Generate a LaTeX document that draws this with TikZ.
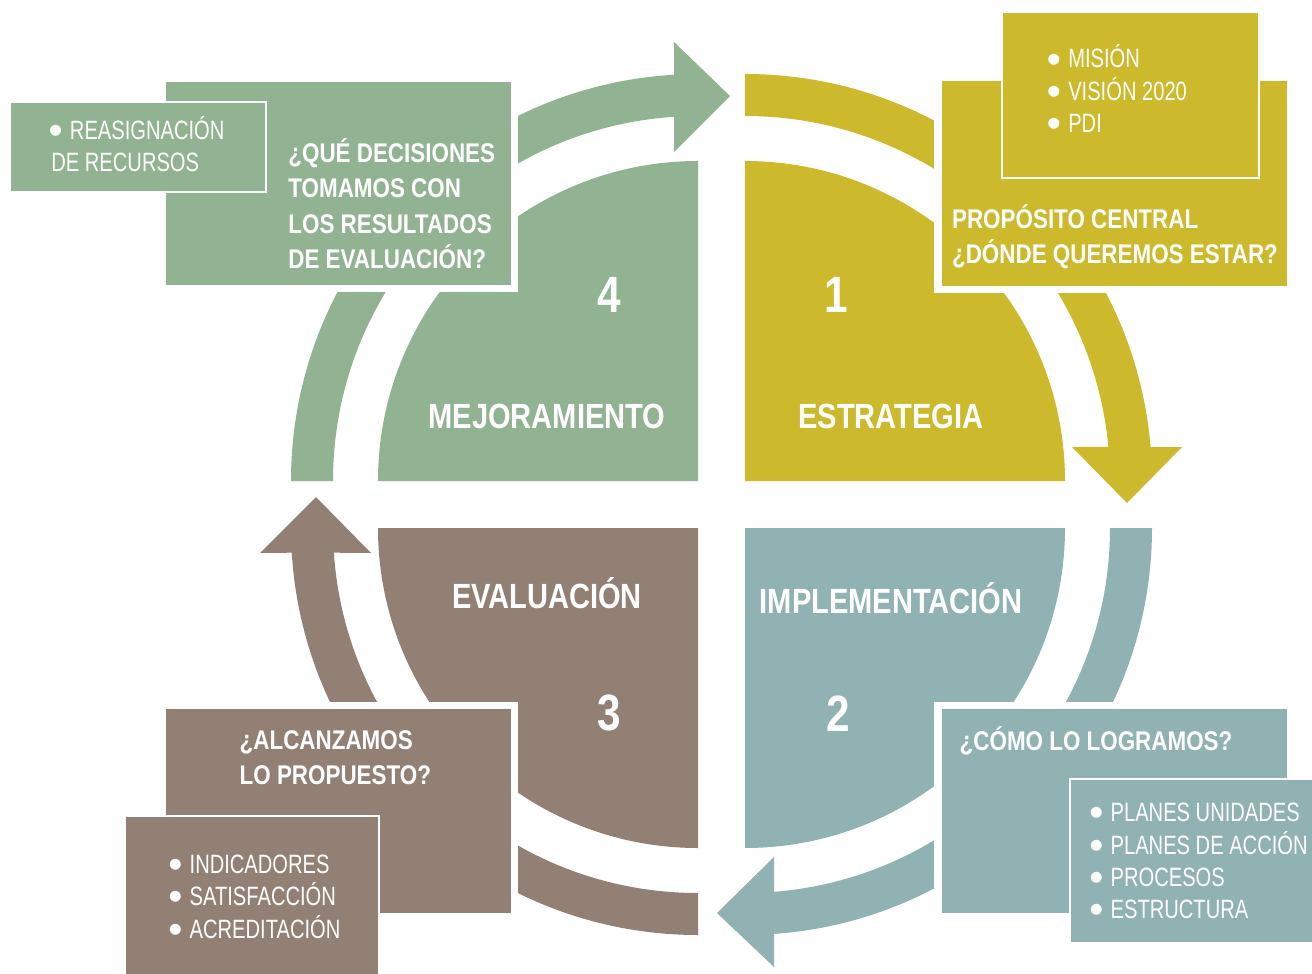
\documentclass[tikz,border=0pt]{standalone}
\usepackage{fontspec}
\setmainfont{Liberation Sans}
\newfontfamily\headfont{Liberation Sans}[FakeStretch=0.83]
\newfontfamily\listfont{Liberation Sans}[FakeStretch=0.76]
\newfontfamily\dotfont{DejaVu Sans}
\newcommand\bul{\hspace{-1pt}\raisebox{0.18em}{\dotfont\fontsize{7.2}{8}\selectfont ●}\hspace{4pt}}
\definecolor{verde}{RGB}{146,179,145}
\definecolor{amarillo}{RGB}{205,185,44}
\definecolor{azul}{RGB}{145,178,178}
\definecolor{cafe}{RGB}{147,128,116}

\begin{document}
\begin{tikzpicture}[x=0.5pt,y=-0.5pt,
    bigbox/.style={draw=white,line width=3.7pt},
    smallbox/.style={draw=white,line width=1pt},
    boxtext/.style={font=\headfont\bfseries\fontsize{13.5}{17.65}\selectfont,anchor=base west},
    listtext/.style={font=\listfont\fontsize{13.25}{16}\selectfont,anchor=base west},
    phase/.style={font=\headfont\bfseries\fontsize{17.5}{21}\selectfont,anchor=base},
    number/.style={font=\headfont\bfseries\fontsize{25.5}{30}\selectfont}]

      \useasboundingbox (0,0) rectangle (1312,974);

      % quadrants
      \fill[amarillo] (745,481) -- ++(0,-320) arc[start angle=-90,end angle=0,radius=320] -- cycle;
      \fill[azul] (745,528) -- ++(320,0) arc[start angle=0,end angle=90,radius=320] -- cycle;
      \fill[cafe] (698,528) -- ++(0,320) arc[start angle=90,end angle=180,radius=320] -- cycle;
      \fill[verde] (698,481) -- ++(-320,0) arc[start angle=180,end angle=270,radius=320] -- cycle;

      % ring arrows
      \fill[amarillo,shift={(745,481)}] (-90:407) arc[start angle=-90,end angle=-4.79,radius=407]
        -- (437,-34) -- (382,22) -- (327,-34)
        -- (-5.35:365) arc[start angle=-5.35,end angle=-90,radius=365] -- cycle;
      \fill[azul,shift={(745,528)}] (0:407) arc[start angle=0,end angle=85.91,radius=407]
        -- (29,439) -- (-28,385) -- (29,329)
        -- (85.44:365) arc[start angle=85.44,end angle=0,radius=365] -- cycle;
      \fill[cafe,shift={(698,528)}] (90:407) arc[start angle=90,end angle=176.52,radius=407]
        -- (-438,25) -- (-382,-31) -- (-327,25)
        -- (176.12:365) arc[start angle=176.12,end angle=90,radius=365] -- cycle;
      \fill[verde,shift={(698,481)}] (180:407) arc[start angle=180,end angle=266.62,radius=407]
        -- (-24,-439) -- (32,-385) -- (-24,-329)
        -- (266.23:365) arc[start angle=266.23,end angle=180,radius=365] -- cycle;

      % boxes
      \filldraw[verde,bigbox] (162,78) rectangle (514.4,288.2);
      \filldraw[amarillo,bigbox] (938,77.3) rectangle (1290.4,289.7);
      \filldraw[azul,bigbox] (938,705.6) rectangle (1290.4,916.4);
      \filldraw[cafe,bigbox] (162,705.6) rectangle (514.7,916.4);

      \filldraw[verde,smallbox] (10,102) rectangle (266,192);
      \filldraw[amarillo,smallbox] (1001.7,12.3) rectangle (1259,177.7);
      \filldraw[azul,smallbox] (1069.7,779) rectangle (1330,943.3);
      \filldraw[cafe,smallbox] (124.7,815.7) rectangle (379.3,990);

      \begin{scope}[every node/.style={text=white,inner sep=0pt}]
        \node[number] (n4) at (609,295) {4};
        \node[number] (n1) at (836,295) {1};
        \node[number] (n3) at (609,713) {3};
        \node[number] (n2) at (838,714) {2};

        \node[phase] (mejora) at (547,428) {MEJORAMIENTO};
        \node[phase] (estrat) at (891,428) {ESTRATEGIA};
        \node[phase] (evalua) at (547,608.5) {EVALUACIÓN};
        \node[phase] (implem) at (891,613.5) {IMPLEMENTACIÓN};

        \node[boxtext] (decis) at (288,162.7)
          {\begin{tabular}[t]{@{}l@{}}¿QUÉ DECISIONES\\TOMAMOS CON\\LOS RESULTADOS\\DE EVALUACIÓN?\end{tabular}};
        \node[boxtext] (propo) at (951.7,228.3)
          {\begin{tabular}[t]{@{}l@{}}PROPÓSITO CENTRAL\\¿DÓNDE QUEREMOS ESTAR?\end{tabular}};
        \node[boxtext] (logra) at (959.3,750) {¿CÓMO LO LOGRAMOS?};
        \node[boxtext] (alcan) at (239.3,749)
          {\begin{tabular}[t]{@{}l@{}}¿ALCANZAMOS\\LO PROPUESTO?\end{tabular}};

        \node[listtext] (recur) at (51,139.5)
          {\begin{tabular}[t]{@{}l@{}}\bul REASIGNACIÓN\\DE RECURSOS\end{tabular}};
        \node[listtext] (mision) at (1049.3,68)
          {\begin{tabular}[t]{@{}l@{}}\bul MISIÓN\\\bul VISIÓN 2020\\\bul PDI\end{tabular}};
        \node[listtext] (planes) at (1091.7,821.5)
          {\begin{tabular}[t]{@{}l@{}}\bul PLANES UNIDADES\\\bul PLANES DE ACCIÓN\\\bul PROCESOS\\\bul ESTRUCTURA\end{tabular}};
        \node[listtext] (indic) at (170.7,873)
          {\begin{tabular}[t]{@{}l@{}}\bul INDICADORES\\\bul SATISFACCIÓN\\\bul ACREDITACIÓN\end{tabular}};
      \end{scope}

    \end{tikzpicture}
\end{document}
